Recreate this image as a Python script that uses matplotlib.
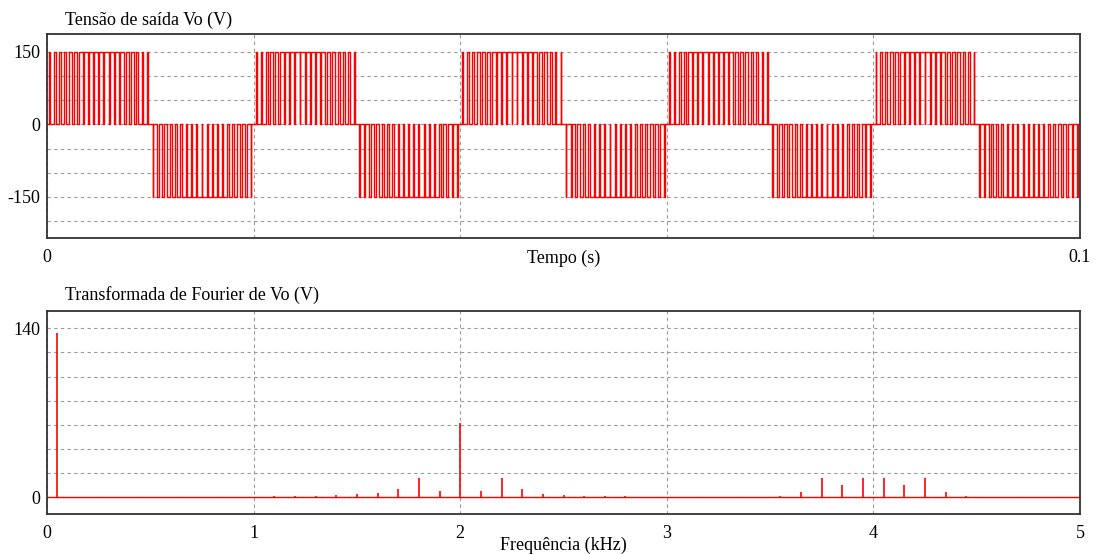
import numpy as np
import matplotlib
matplotlib.use('Agg')
import matplotlib.pyplot as plt
from matplotlib.ticker import FixedLocator

plt.rcParams['font.family'] = ['Liberation Serif', 'DejaVu Serif']

# tensão de saída: pulsos de um semiciclo (fração do período da portadora em 150 V)
vdc = 150
periodo_portadora = 0.0005   # s (2 kHz)
semiciclo = 0.01             # s (50 Hz)
n_semiciclos = 10
duty = [0.15, 0.28, 0.40, 0.50, 0.60, 0.68, 0.75, 0.80, 0.84, 0.86,
        0.86, 0.84, 0.80, 0.75, 0.68, 0.60, 0.50, 0.40, 0.28, 0.15]

# espectro (kHz, V)
freq_khz = [0.05, 1.1, 1.2, 1.3, 1.4, 1.5, 1.6, 1.7, 1.8, 1.9, 2.0, 2.1, 2.2,
            2.3, 2.4, 2.5, 2.6, 2.7, 2.8, 3.55, 3.65, 3.75, 3.85, 3.95, 4.05,
            4.15, 4.25, 4.35, 4.45]
amp = [136, 1.1, 1.1, 1.1, 1.9, 2.5, 3.6, 7.0, 15.8, 5.3, 61.4, 5.3, 15.8,
       6.6, 2.8, 2.0, 1.1, 1.1, 1.0, 1.1, 4.4, 16.3, 10.2, 15.8, 15.8,
       10.2, 16.3, 4.4, 1.1]

# monta a forma de onda em degraus
t = [0.0]
v = [0.0]
for h in range(n_semiciclos):
    sinal = 1 if h % 2 == 0 else -1
    for k, d in enumerate(duty):
        c = h * semiciclo + (k + 0.5) * periodo_portadora
        sobe = c - d * periodo_portadora / 2
        desce = c + d * periodo_portadora / 2
        t += [sobe, sobe, desce, desce]
        v += [0, sinal * vdc, sinal * vdc, 0]
t.append(n_semiciclos * semiciclo)
v.append(0.0)

fig = plt.figure(figsize=(10.99, 5.54), dpi=100)
ax1 = fig.add_axes([0.0428, 0.5704, 0.9399, 0.3676])
ax2 = fig.add_axes([0.0428, 0.0717, 0.9399, 0.3675])

vermelho = '#ff0000'
grade = dict(color='#9a9a9a', linestyle=(0, (3, 3)), linewidth=0.8)

ax1.plot(t, v, color=vermelho, lw=1.0)
ax1.set_xlim(0, 0.1)
ax1.set_ylim(-235, 186)
ax1.set_yticks([-150, 0, 150])
ax1.set_yticklabels(['-150', '0', '150'])
ax1.yaxis.set_minor_locator(FixedLocator([-200, -100, -50, 50, 100]))
ax1.set_xticks([0, 0.1])
ax1.set_xticklabels(['0', '0.1'])
ax1.xaxis.set_minor_locator(FixedLocator([0.02, 0.04, 0.06, 0.08]))
ax1.text(0.5, -0.098, 'Tempo (s)', transform=ax1.transAxes,
         ha='center', va='center', fontsize=13)
ax1.text(0.017, 1.07, 'Tensão de saída Vo (V)', transform=ax1.transAxes,
         ha='left', va='center', fontsize=13)

ax2.axhline(0, color=vermelho, lw=1.0)
ax2.vlines(freq_khz, 0, amp, color=vermelho, lw=1.2)
ax2.set_xlim(0, 5)
ax2.set_ylim(-14.1, 154.6)
ax2.set_yticks([0, 140])
ax2.yaxis.set_minor_locator(FixedLocator([20, 40, 60, 80, 100, 120]))
ax2.set_xticks([0, 1, 2, 3, 4, 5])
ax2.text(0.5, -0.152, 'Frequência (kHz)', transform=ax2.transAxes,
         ha='center', va='center', fontsize=13)
ax2.text(0.017, 1.075, 'Transformada de Fourier de Vo (V)',
         transform=ax2.transAxes, ha='left', va='center', fontsize=13)

for ax in (ax1, ax2):
    ax.grid(True, which='both', **grade)
    ax.tick_params(which='both', length=0, labelsize=13)
    ax.tick_params(axis='x', pad=8)
    ax.tick_params(axis='y', pad=5)
    for s in ax.spines.values():
        s.set_color('#333333')
        s.set_linewidth(1.3)
    ax.set_axisbelow(True)

fig.savefig('out.png', dpi=100)
